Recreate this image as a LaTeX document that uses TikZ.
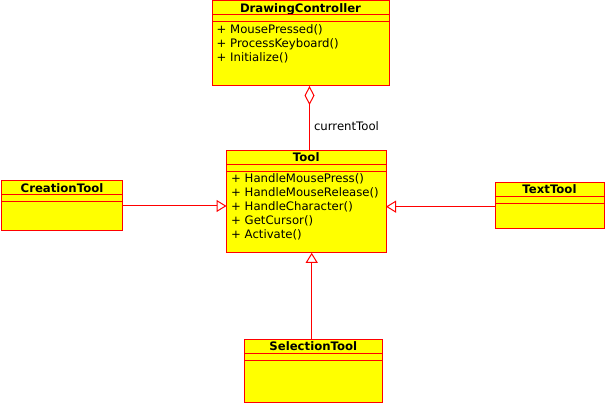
\documentclass[tikz,border=0pt]{standalone}
\usepackage{fontspec}
\setmainfont{DejaVu Sans}
\usetikzlibrary{arrows.meta,calc,positioning}
\definecolor{umlyellow}{RGB}{255,255,0}
\definecolor{umlred}{RGB}{255,0,0}

\begin{document}
\begin{tikzpicture}[x=1pt,y=-1pt,line cap=butt,line join=miter,
  classbox/.style={draw=umlred,fill=umlyellow,line width=1pt,outer sep=0pt,
    inner sep=0pt,anchor=north west},
  classtitle/.style={font=\fontsize{11.7}{14}\selectfont\bfseries,inner sep=0pt,anchor=base},
  member/.style={font=\fontsize{11.7}{14}\selectfont,text=black,inner sep=0pt,anchor=base west},
  classline/.style={umlred,line width=1pt},
  inherit/.style={umlred,line width=1pt,-{Triangle[open,length=10pt,width=12pt,fill=white]}}]
 \useasboundingbox (0,0) rectangle (606,403);

 % classes
 \node[classbox,minimum width=177pt,minimum height=85pt] (drawctl) at (212,1) {};
 \node[classbox,minimum width=159.5pt,minimum height=102.5pt] (tool) at (226.5,150.3) {};
 \node[classbox,minimum width=120.8pt,minimum height=50pt] (creation) at (1.6,181) {};
 \node[classbox,minimum width=109pt,minimum height=46.7pt] (texttool) at (495,182.3) {};
 \node[classbox,minimum width=138.6pt,minimum height=63pt] (selection) at (244,339.3) {};

 \node[classtitle] (drawctl-t) at ([yshift=-12pt]drawctl.north) {DrawingController};
 \node[classtitle] (tool-t) at ([yshift=-11.5pt]tool.north) {Tool};
 \node[classtitle] (creation-t) at ([yshift=-11.7pt]creation.north) {CreationTool};
 \node[classtitle] (texttool-t) at ([yshift=-11.7pt]texttool.north) {TextTool};
 \node[classtitle] (selection-t) at ([yshift=-11.7pt]selection.north) {SelectionTool};

 \foreach \c in {drawctl,tool,creation,texttool,selection}{
  \draw[classline] ([yshift=-14pt]\c.north west) -- ([yshift=-14pt]\c.north east);
  \draw[classline] ([yshift=-21pt]\c.north west) -- ([yshift=-21pt]\c.north east);
 }

 % operations
 \foreach \m [count=\i] in {MousePressed(),ProcessKeyboard(),Initialize()}
  \node[member] (drawctl-m\i) at ([xshift=4.5pt,yshift={-19pt-14pt*\i}]drawctl.north west) {+ \m};
 \foreach \m [count=\i] in {HandleMousePress(),HandleMouseRelease(),HandleCharacter(),
   GetCursor(),Activate()}
  \node[member] (tool-m\i) at ([xshift=4.5pt,yshift={-18.5pt-14pt*\i}]tool.north west) {+ \m};

 % associations
 \draw[umlred,line width=1pt,{Diamond[open,length=19pt,width=10pt,fill=white]}-]
  ([xshift=9pt]drawctl.south) -- ([xshift=9pt]drawctl.south |- tool.north)
  node[member,anchor=west,midway,xshift=4pt,yshift=-8pt] (curtool) {currentTool};
 \draw[inherit] (creation.east) -- (creation.east -| tool.west);
 \draw[inherit] ([yshift=-1pt]texttool.west) -- ([yshift=-1pt]texttool.west -| tool.east);
 \draw[inherit] ([xshift=-1.6pt]selection.north) -- ([xshift=-1.6pt]selection.north |- tool.south);
\end{tikzpicture}
\end{document}
